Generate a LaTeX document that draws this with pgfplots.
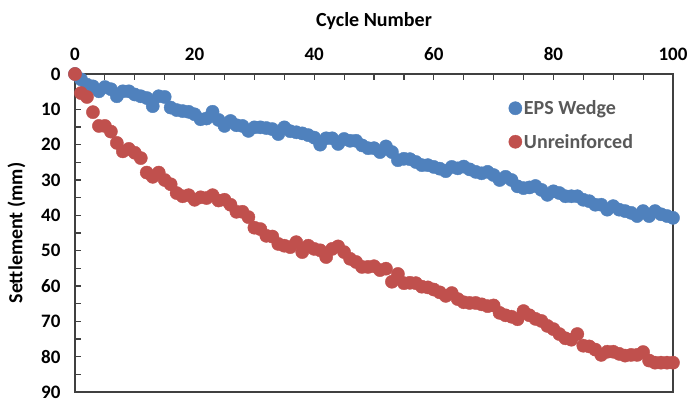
\documentclass[border=0pt]{standalone}
\usepackage{fontspec}
\setmainfont{Carlito}
\usepackage{pgfplots}
\pgfplotsset{compat=1.18}
\definecolor{epsblue}{HTML}{4F81BD}
\definecolor{unred}{HTML}{C0504D}
\definecolor{axgray}{HTML}{404040}
\definecolor{leggray}{HTML}{595959}
\begin{document}
\begin{tikzpicture}
\useasboundingbox (-75pt,-11pt) rectangle (614pt,392pt);
\begin{axis}[
  scale only axis,
  width=598pt, height=318pt,
  xmin=0, xmax=100, ymin=0, ymax=90,
  y dir=reverse,
  axis line style={axgray, line width=1.3pt},
  xtick={0,20,...,100}, minor x tick num=3,
  ytick={0,10,...,90}, minor y tick num=1,
  xtick pos=right, xticklabel pos=right,
  ytick pos=left,
  tick align=inside,
  major tick length=6pt, minor tick length=6pt,
  every tick/.style={axgray, line width=1.2pt},
  tick label style={font=\fontsize{19}{22}\selectfont\bfseries},
  /pgf/number format/assume math mode=true,
  xticklabel style={yshift=10pt},
  yticklabel style={xshift=-11pt},
  xlabel={Cycle Number},
  ylabel={Settlement (mm)},
  label style={font=\fontsize{20}{24}\selectfont\bfseries},
  xlabel style={yshift=11pt},
  ylabel style={yshift=9pt},
  legend style={draw=none, fill=none, at={(rel axis cs:0.72,0.93)}, anchor=north west,
    font=\fontsize{20}{24}\selectfont\bfseries, text=leggray, row sep=14pt,
    /tikz/every even column/.append style={column sep=2pt}},
  legend cell align=left,
]
\addplot[only marks, mark=*, mark size=6.6pt, mark options={draw=epsblue, fill=epsblue}] coordinates {
(0,0) (1,1.5) (2,3) (3,3.5) (4,4.9) (5,3.7) (6,4.3) (7,6.3) (8,4.9) (9,4.9)
(10,5.8) (11,6.3) (12,6.8) (13,9.1) (14,6.3) (15,6.5) (16,9.5) (17,10.2) (18,10.5) (19,10.7)
(20,11.4) (21,12.8) (22,12.6) (23,10.7) (24,13) (25,14.7) (26,13.3) (27,14.5) (28,14.7) (29,16.1)
(30,15.1) (31,15.1) (32,15.3) (33,15.6) (34,17) (35,15.1) (36,16.2) (37,16.5) (38,16.8) (39,17.3)
(40,18) (41,20) (42,18.2) (43,18.2) (44,19.8) (45,18.4) (46,18.9) (47,18.9) (48,20.2) (49,21)
(50,21) (51,22.1) (52,20.5) (53,22.1) (54,24.4) (55,24) (56,24.1) (57,24.9) (58,25.8) (59,25.8)
(60,26.3) (61,26.8) (62,27.5) (63,26.3) (64,26.7) (65,26.2) (66,27) (67,27.7) (68,28.1) (69,27.7)
(70,28.6) (71,30) (72,29.1) (73,30) (74,31.8) (75,32.3) (76,32.1) (77,31.7) (78,32.8) (79,34.2)
(80,33.2) (81,33.7) (82,34.6) (83,34.6) (84,34.6) (85,35.6) (86,36) (87,37) (88,37) (89,38.4)
(90,37.4) (91,38.4) (92,38.8) (93,39.3) (94,40.2) (95,38.8) (96,40.2) (97,38.8) (98,39.7) (99,40.2)
(100,40.7)
};
\addlegendentry{EPS Wedge}
\addplot[only marks, mark=*, mark size=6.6pt, mark options={draw=unred, fill=unred}] coordinates {
(0,0) (1,5.4) (2,6.5) (3,10.8) (4,14.7) (5,14.7) (6,16.3) (7,19.5) (8,21.9) (9,21.2)
(10,22.3) (11,23.8) (12,27.9) (13,29.1) (14,27.9) (15,30) (16,31.2) (17,33.7) (18,34.6) (19,34.3)
(20,35.6) (21,34.9) (22,35.1) (23,34.3) (24,35.8) (25,35.6) (26,37) (27,39) (28,39) (29,40.5)
(30,43.5) (31,43.9) (32,45.8) (33,46) (34,48.1) (35,48.6) (36,49) (37,47.6) (38,50.4) (39,48.6)
(40,49.5) (41,49.9) (42,51.8) (43,49.5) (44,48.8) (45,50.4) (46,52.3) (47,53.2) (48,54.6) (49,54.6)
(50,54.4) (51,55.5) (52,55.1) (53,58.8) (54,56.6) (55,59.2) (56,59.1) (57,59.2) (58,60.2) (59,60.4)
(60,61) (61,61.8) (62,62.8) (63,62) (64,63.7) (65,64.6) (66,64.8) (67,64.8) (68,65.2) (69,65.7)
(70,65.5) (71,67.6) (72,68.3) (73,68.7) (74,69.4) (75,67.1) (76,68.3) (77,69.3) (78,69.9) (79,71.3)
(80,72.2) (81,73.6) (82,74.8) (83,75.2) (84,73.6) (85,76.9) (86,77.1) (87,78) (88,79.5) (89,78.6)
(90,78.6) (91,79.2) (92,79.7) (93,79.5) (94,79.5) (95,78.7) (96,81.1) (97,81.7) (98,81.7) (99,81.7)
(100,81.7)
};
\addlegendentry{Unreinforced}
\end{axis}
\end{tikzpicture}
\end{document}
